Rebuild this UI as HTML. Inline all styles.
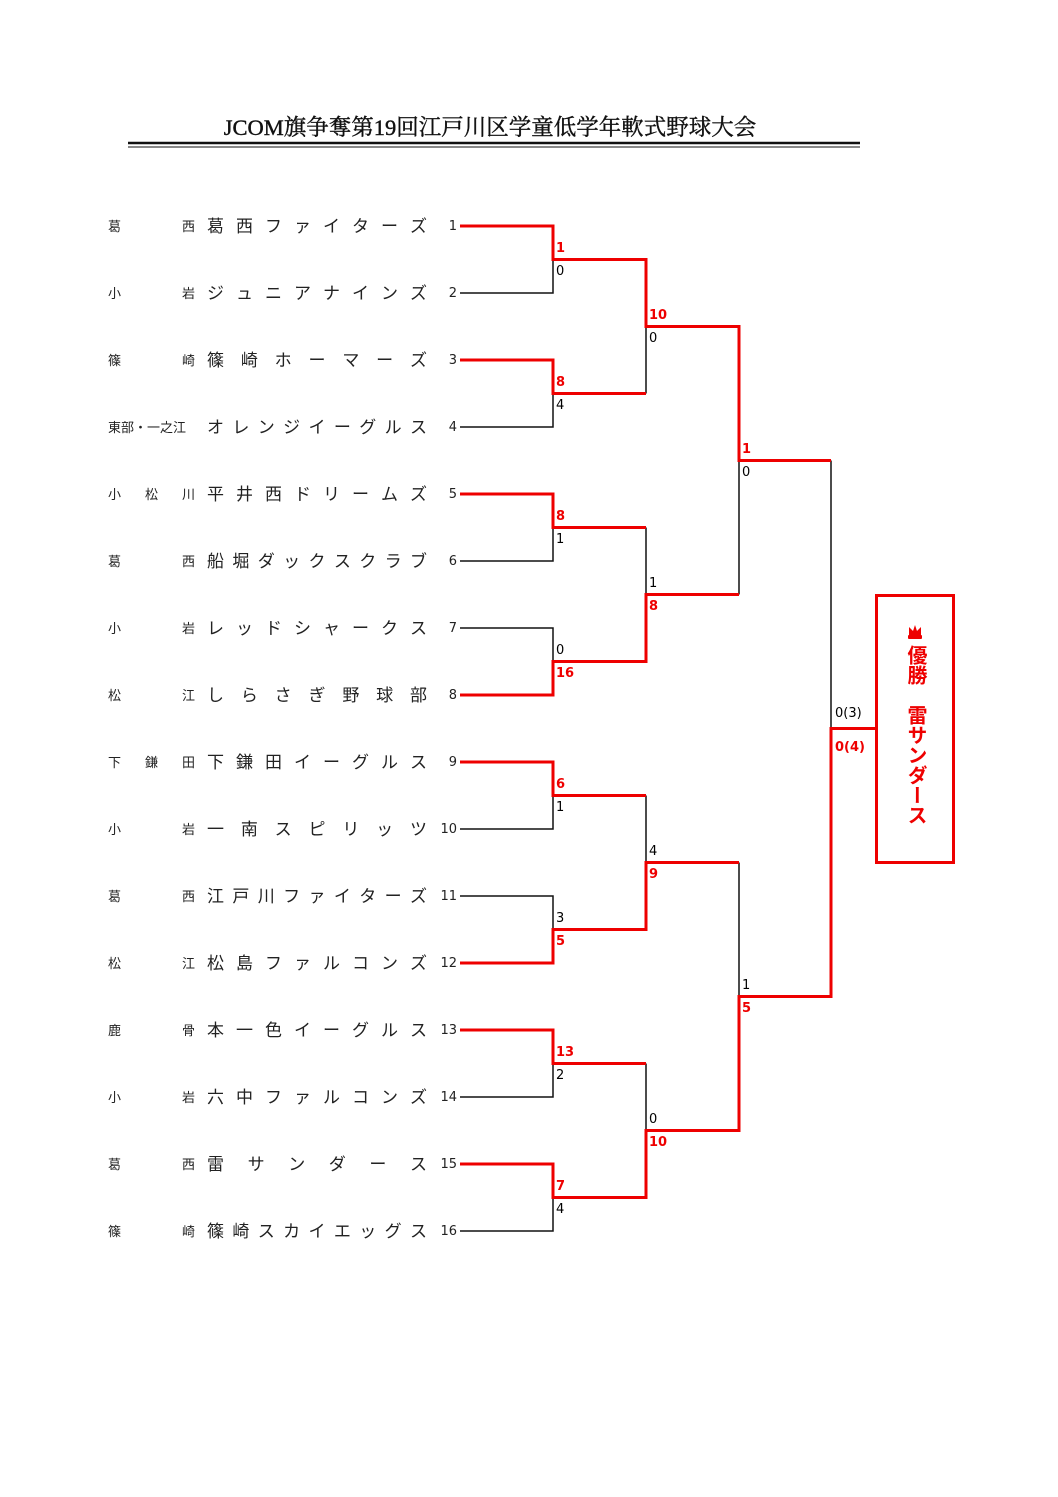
<!DOCTYPE html>
<html><head><meta charset="utf-8"><style>
body{margin:0;background:#fff;}
#p{position:relative;width:1058px;height:1497px;overflow:hidden;font-family:"Liberation Sans","Noto Sans CJK JP",sans-serif;color:#222;}
.t{position:absolute;left:0;top:110px;width:980px;text-align:center;font-family:"Liberation Serif","Noto Serif CJK SC",serif;font-size:22.5px;font-weight:normal;color:#111;-webkit-text-stroke:0.4px #111;}
.row{position:absolute;left:0;height:20px;width:460px;}
.a{position:absolute;left:108px;width:87px;font-size:13px;text-align:justify;text-align-last:justify;line-height:20px;}
.n{position:absolute;left:207px;width:220px;display:flex;justify-content:space-between;font-size:17px;line-height:20px;}
.num{position:absolute;right:3px;font-size:13px;line-height:20px;font-family:"DejaVu Sans",sans-serif;}
svg{position:absolute;left:0;top:0;}
.s{font-family:"DejaVu Sans",sans-serif;font-size:13px;}
.r{fill:#e00;font-weight:bold;}
.champ{position:absolute;left:875px;top:594px;width:74px;height:264px;border:3px solid #e00;box-sizing:content-box;}
.cv{position:absolute;left:0;width:74px;top:48px;writing-mode:vertical-rl;color:#e00;font-weight:bold;font-size:20px;line-height:74px;font-family:"Liberation Sans","Noto Sans CJK JP",sans-serif;}
</style></head><body><div id="p">
<div class="t">JCOM旗争奪第19回江戸川区学童低学年軟式野球大会</div>

<div class="row" style="top:217px"><div class="a">葛 西</div><div class="n"><span>葛</span><span>西</span><span>フ</span><span>ァ</span><span>イ</span><span>タ</span><span>ー</span><span>ズ</span></div><div class="num">1</div></div>
<div class="row" style="top:284px"><div class="a">小 岩</div><div class="n"><span>ジ</span><span>ュ</span><span>ニ</span><span>ア</span><span>ナ</span><span>イ</span><span>ン</span><span>ズ</span></div><div class="num">2</div></div>
<div class="row" style="top:351px"><div class="a">篠 崎</div><div class="n"><span>篠</span><span>崎</span><span>ホ</span><span>ー</span><span>マ</span><span>ー</span><span>ズ</span></div><div class="num">3</div></div>
<div class="row" style="top:418px"><div class="a" style="text-align-last:auto;letter-spacing:0">東部・一之江</div><div class="n"><span>オ</span><span>レ</span><span>ン</span><span>ジ</span><span>イ</span><span>ー</span><span>グ</span><span>ル</span><span>ス</span></div><div class="num">4</div></div>
<div class="row" style="top:485px"><div class="a">小 松 川</div><div class="n"><span>平</span><span>井</span><span>西</span><span>ド</span><span>リ</span><span>ー</span><span>ム</span><span>ズ</span></div><div class="num">5</div></div>
<div class="row" style="top:552px"><div class="a">葛 西</div><div class="n"><span>船</span><span>堀</span><span>ダ</span><span>ッ</span><span>ク</span><span>ス</span><span>ク</span><span>ラ</span><span>ブ</span></div><div class="num">6</div></div>
<div class="row" style="top:619px"><div class="a">小 岩</div><div class="n"><span>レ</span><span>ッ</span><span>ド</span><span>シ</span><span>ャ</span><span>ー</span><span>ク</span><span>ス</span></div><div class="num">7</div></div>
<div class="row" style="top:686px"><div class="a">松 江</div><div class="n"><span>し</span><span>ら</span><span>さ</span><span>ぎ</span><span>野</span><span>球</span><span>部</span></div><div class="num">8</div></div>
<div class="row" style="top:753px"><div class="a">下 鎌 田</div><div class="n"><span>下</span><span>鎌</span><span>田</span><span>イ</span><span>ー</span><span>グ</span><span>ル</span><span>ス</span></div><div class="num">9</div></div>
<div class="row" style="top:820px"><div class="a">小 岩</div><div class="n"><span>一</span><span>南</span><span>ス</span><span>ピ</span><span>リ</span><span>ッ</span><span>ツ</span></div><div class="num">10</div></div>
<div class="row" style="top:887px"><div class="a">葛 西</div><div class="n"><span>江</span><span>戸</span><span>川</span><span>フ</span><span>ァ</span><span>イ</span><span>タ</span><span>ー</span><span>ズ</span></div><div class="num">11</div></div>
<div class="row" style="top:954px"><div class="a">松 江</div><div class="n"><span>松</span><span>島</span><span>フ</span><span>ァ</span><span>ル</span><span>コ</span><span>ン</span><span>ズ</span></div><div class="num">12</div></div>
<div class="row" style="top:1021px"><div class="a">鹿 骨</div><div class="n"><span>本</span><span>一</span><span>色</span><span>イ</span><span>ー</span><span>グ</span><span>ル</span><span>ス</span></div><div class="num">13</div></div>
<div class="row" style="top:1088px"><div class="a">小 岩</div><div class="n"><span>六</span><span>中</span><span>フ</span><span>ァ</span><span>ル</span><span>コ</span><span>ン</span><span>ズ</span></div><div class="num">14</div></div>
<div class="row" style="top:1155px"><div class="a">葛 西</div><div class="n"><span>雷</span><span>サ</span><span>ン</span><span>ダ</span><span>ー</span><span>ス</span></div><div class="num">15</div></div>
<div class="row" style="top:1222px"><div class="a">篠 崎</div><div class="n"><span>篠</span><span>崎</span><span>ス</span><span>カ</span><span>イ</span><span>エ</span><span>ッ</span><span>グ</span><span>ス</span></div><div class="num">16</div></div>

<svg width="1058" height="1497">
<line x1="128" y1="143" x2="860" y2="143" stroke="#111" stroke-width="2.5"/>
<line x1="128" y1="147" x2="860" y2="147" stroke="#111" stroke-width="1"/>
<g stroke="#111" stroke-width="1.5" fill="none">
<path d="M460 293H553V259.5 M460 427H553V393.5 M460 561H553V527.5 M460 628H553V661.5 M460 829H553V795.5 M460 896H553V929.5 M460 1097H553V1063.5 M460 1231H553V1197.5"/>
<path d="M646 326.5V393.5 M646 527.5V594.5 M646 795.5V862.5 M646 1063.5V1130.5 M739 460.5V594.5 M739 862.5V996.5 M831 460.5V728.5"/>
</g>
<g stroke="#e00" stroke-width="3" fill="none" stroke-linejoin="miter">
<path d="M460 226H553V259.5H646V326.5H739V460.5H831"/>
<path d="M460 360H553V393.5H646"/>
<path d="M460 494H553V527.5H646"/>
<path d="M460 695H553V661.5H646V594.5H739"/>
<path d="M460 762H553V795.5H646"/>
<path d="M460 963H553V929.5H646V862.5H739"/>
<path d="M460 1030H553V1063.5H646"/>
<path d="M460 1164H553V1197.5H646V1130.5H739V996.5H831V728.5H875"/>
</g>
<g class="s">
<text x="556" y="252" class="r">1</text><text x="556" y="275">0</text>
<text x="556" y="386" class="r">8</text><text x="556" y="409">4</text>
<text x="556" y="520" class="r">8</text><text x="556" y="543">1</text>
<text x="556" y="654">0</text><text x="556" y="677" class="r">16</text>
<text x="556" y="788" class="r">6</text><text x="556" y="811">1</text>
<text x="556" y="922">3</text><text x="556" y="945" class="r">5</text>
<text x="556" y="1056" class="r">13</text><text x="556" y="1079">2</text>
<text x="556" y="1190" class="r">7</text><text x="556" y="1213">4</text>
<text x="649" y="319" class="r">10</text><text x="649" y="342">0</text>
<text x="649" y="587">1</text><text x="649" y="610" class="r">8</text>
<text x="649" y="855">4</text><text x="649" y="878" class="r">9</text>
<text x="649" y="1123">0</text><text x="649" y="1146" class="r">10</text>
<text x="742" y="453" class="r">1</text><text x="742" y="476">0</text>
<text x="742" y="989">1</text><text x="742" y="1012" class="r">5</text>
<text x="835" y="717">0(3)</text><text x="835" y="751" class="r">0(4)</text>
</g>
</svg>
<div class="champ">
<svg width="74" height="48" style="left:0;top:0"><path d="M31 38 L31 30 L35 34 L37 28 L39 34 L43 30 L43 38 Z" fill="#e00"/><rect x="30" y="38" width="14" height="4" rx="1" fill="#e00"/></svg>
<div class="cv">優勝　雷サンダース</div>
</div>
</div></body></html>
